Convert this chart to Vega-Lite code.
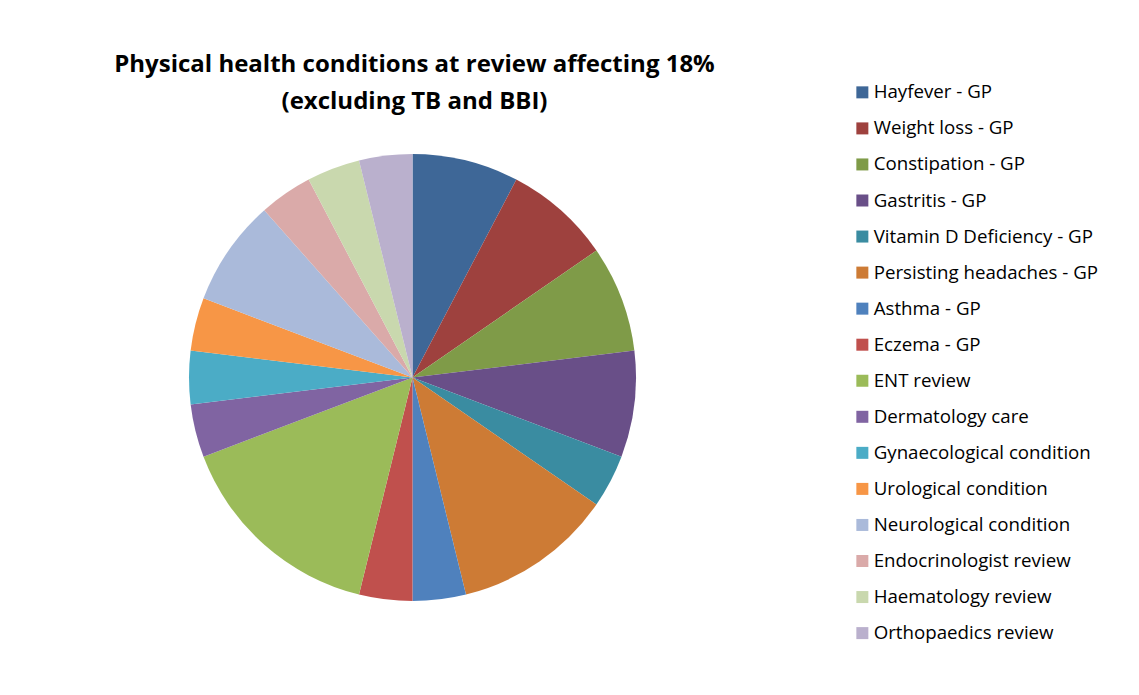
{
  "$schema": "https://vega.github.io/schema/vega-lite/v6.json",
  "autosize": {"type": "none"},
  "width": 825,
  "height": 635,
  "padding": {"left": 0, "top": 60, "right": 314, "bottom": 0},
  "background": "white",
  "title": {
    "text": ["Physical health conditions at review affecting 18%", "(excluding TB and BBI)"],
    "anchor": "middle",
    "frame": "group",
    "orient": "top",
    "baseline": "alphabetic",
    "offset": 0,
    "dy": 73,
    "dx": 2,
    "lineHeight": 37,
    "font": "Open Sans",
    "fontSize": 24,
    "fontWeight": "bold",
    "color": "#000000"
  },
  "data": {
    "values": [
      {"idx": 1, "condition": "Hayfever - GP", "count": 2},
      {"idx": 2, "condition": "Weight loss - GP", "count": 2},
      {"idx": 3, "condition": "Constipation - GP", "count": 2},
      {"idx": 4, "condition": "Gastritis - GP", "count": 2},
      {"idx": 5, "condition": "Vitamin D Deficiency - GP", "count": 1},
      {"idx": 6, "condition": "Persisting headaches - GP", "count": 3},
      {"idx": 7, "condition": "Asthma - GP", "count": 1},
      {"idx": 8, "condition": "Eczema - GP", "count": 1},
      {"idx": 9, "condition": "ENT review", "count": 4},
      {"idx": 10, "condition": "Dermatology care", "count": 1},
      {"idx": 11, "condition": "Gynaecological condition", "count": 1},
      {"idx": 12, "condition": "Urological condition", "count": 1},
      {"idx": 13, "condition": "Neurological condition", "count": 2},
      {"idx": 14, "condition": "Endocrinologist review", "count": 1},
      {"idx": 15, "condition": "Haematology review", "count": 1},
      {"idx": 16, "condition": "Orthopaedics review", "count": 1}
    ]
  },
  "mark": {"type": "arc", "outerRadius": 223.5, "stroke": null},
  "encoding": {
    "theta": {"field": "count", "type": "quantitative", "stack": true},
    "order": {"field": "idx", "type": "quantitative", "sort": "ascending"},
    "color": {
      "field": "condition",
      "type": "nominal",
      "scale": {
        "domain": ["Hayfever - GP", "Weight loss - GP", "Constipation - GP", "Gastritis - GP", "Vitamin D Deficiency - GP", "Persisting headaches - GP", "Asthma - GP", "Eczema - GP", "ENT review", "Dermatology care", "Gynaecological condition", "Urological condition", "Neurological condition", "Endocrinologist review", "Haematology review", "Orthopaedics review"],
        "range": ["#3E6797", "#9E413E", "#7F9B48", "#694F88", "#3A8CA1", "#CD7B35", "#4F81BD", "#C0504D", "#9BBB59", "#8064A2", "#4BACC6", "#F79646", "#AABADA", "#DAAAA9", "#C9D8AE", "#BAB0CD"]
      },
      "legend": {
        "title": null,
        "orient": "none",
        "legendX": 853,
        "legendY": 23,
        "symbolType": "square",
        "symbolSize": 144,
        "symbolStrokeWidth": 0,
        "symbolOpacity": 1,
        "labelFont": "Open Sans",
        "labelFontSize": 18.7,
        "labelColor": "#000000",
        "labelOffset": 2,
        "labelLimit": 300,
        "rowPadding": 16.05,
        "padding": 0
      }
    }
  },
  "config": {"view": {"stroke": null}}
}
